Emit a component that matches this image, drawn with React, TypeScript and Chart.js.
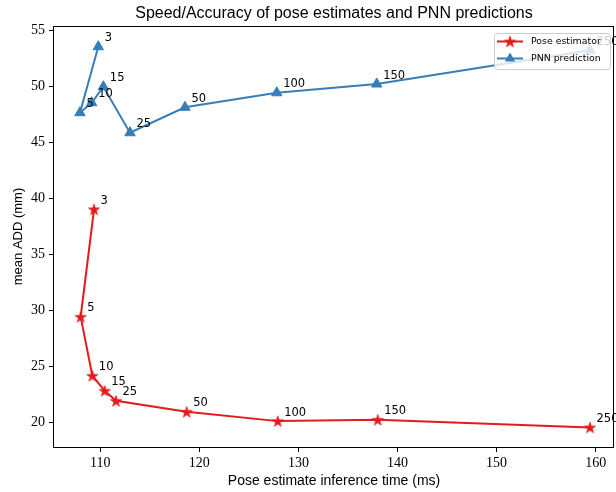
import { useEffect, useRef } from 'react';
import { Chart, registerables } from 'chart.js';

Chart.register(...registerables);

// ---- data ----
const pointLabels = ['3', '5', '10', '15', '25', '50', '100', '150', '250'];
const poseTime = [109.37, 108.02, 109.2, 110.45, 111.59, 118.72, 127.91, 138.0, 159.43];
const poseADD = [39.0, 29.4, 24.14, 22.8, 21.9, 20.92, 20.09, 20.21, 19.53];
const pnnTime = [109.8, 107.95, 109.13, 110.31, 113.0, 118.55, 127.81, 137.9, 159.43];
const pnnADD = [53.51, 47.62, 48.51, 49.94, 45.83, 48.1, 49.4, 50.18, 53.2];
const seriesNames = ['Pose estimator', 'PNN prediction'];
const titleText = 'Speed/Accuracy of pose estimates and PNN predictions';
const xTitle = 'Pose estimate inference time (ms)';
const yTitle = 'mean ADD (mm)';
const xRange = [105.33, 161.85];
const yRange = [17.78, 55.36];

const RED = '#e41a1c';
const BLUE = '#377eb8';

function makeStar(color: string, R: number): HTMLCanvasElement {
  const c = document.createElement('canvas');
  const s = Math.ceil(R * 2 + 2);
  c.width = s;
  c.height = s;
  const g = c.getContext('2d')!;
  const cx = s / 2;
  const cy = s / 2 + R * 0.1;
  g.beginPath();
  for (let i = 0; i < 10; i++) {
    const r = i % 2 === 0 ? R : R * 0.382;
    const a = -Math.PI / 2 + (i * Math.PI) / 5;
    const px = cx + r * Math.cos(a);
    const py = cy + r * Math.sin(a);
    if (i === 0) g.moveTo(px, py);
    else g.lineTo(px, py);
  }
  g.closePath();
  g.fillStyle = color;
  g.fill();
  g.strokeStyle = color;
  g.lineWidth = 0.8;
  g.stroke();
  return c;
}

export default function App() {
  const ref = useRef<HTMLCanvasElement | null>(null);

  useEffect(() => {
    document.body.style.margin = '0';
    const canvas = ref.current!;
    const star = makeStar(RED, 5.8);

    const overlay = {
      id: 'overlay',
      afterDatasetsDraw(chart: any) {
        const ctx = chart.ctx;
        ctx.save();
        ctx.font = '11.5px "DejaVu Sans"';
        ctx.fillStyle = '#000';
        ctx.textAlign = 'left';
        ctx.textBaseline = 'alphabetic';
        chart.data.datasets.forEach((_ds: any, i: number) => {
          const meta = chart.getDatasetMeta(i);
          meta.data.forEach((el: any, j: number) => {
            ctx.fillText(pointLabels[j], el.x + 6.5, el.y - 5.5);
          });
        });
        ctx.restore();
      },
      afterDraw(chart: any) {
        const ctx = chart.ctx;
        const a = chart.chartArea;
        ctx.save();
        // frame
        ctx.strokeStyle = '#000';
        ctx.lineWidth = 1;
        ctx.strokeRect(Math.round(a.left) - 0.5, Math.round(a.top) + 0.5, Math.round(a.right - a.left), Math.round(a.bottom - a.top));
        // title
        ctx.fillStyle = '#000';
        ctx.textAlign = 'center';
        ctx.textBaseline = 'middle';
        ctx.font = '16px "Liberation Sans"';
        ctx.fillText(titleText, (a.left + a.right) / 2, 14);
        // x title
        ctx.font = '14px "Liberation Sans"';
        ctx.fillText(xTitle, (a.left + a.right) / 2, 481);
        // y title
        ctx.save();
        ctx.font = '13px "Liberation Sans"';
        ctx.translate(18, (a.top + a.bottom) / 2);
        ctx.rotate(-Math.PI / 2);
        ctx.fillText(yTitle, 0, 0);
        ctx.restore();
        // legend
        const lx = 494, ly = 33, lw = 116, lh = 36;
        ctx.beginPath();
        ctx.roundRect(lx + 0.5, ly + 0.5, lw, lh, 3);
        ctx.fillStyle = 'rgba(255,255,255,0.8)';
        ctx.fill();
        ctx.strokeStyle = '#cccccc';
        ctx.lineWidth = 1;
        ctx.stroke();
        const rows = [
          { y: 41.5, color: RED, name: seriesNames[0], kind: 'star' },
          { y: 58.5, color: BLUE, name: seriesNames[1], kind: 'tri' },
        ];
        rows.forEach((r) => {
          ctx.strokeStyle = r.color;
          ctx.lineWidth = 2;
          ctx.beginPath();
          ctx.moveTo(497, r.y);
          ctx.lineTo(523, r.y);
          ctx.stroke();
          if (r.kind === 'star') {
            ctx.drawImage(star, 510 - star.width / 2, r.y - star.height / 2);
          } else {
            const R = 6;
            ctx.fillStyle = r.color;
            ctx.beginPath();
            ctx.moveTo(510, r.y - R);
            ctx.lineTo(510 + R * 0.866, r.y + R * 0.5);
            ctx.lineTo(510 - R * 0.866, r.y + R * 0.5);
            ctx.closePath();
            ctx.fill();
          }
          ctx.fillStyle = '#000';
          ctx.textAlign = 'left';
          ctx.textBaseline = 'middle';
          ctx.font = '9.4px "DejaVu Sans"';
          ctx.fillText(r.name, 531, r.y + 0.5);
        });
        ctx.restore();
      },
    };

    const chart = new Chart(canvas, {
      type: 'line',
      data: {
        datasets: [
          {
            label: seriesNames[0],
            data: poseTime.map((x, i) => ({ x, y: poseADD[i] })),
            borderColor: RED,
            backgroundColor: RED,
            borderWidth: 2,
            pointStyle: star as any,
            pointRadius: 6,
            tension: 0,
          },
          {
            label: seriesNames[1],
            data: pnnTime.map((x, i) => ({ x, y: pnnADD[i] })),
            borderColor: BLUE,
            backgroundColor: BLUE,
            borderWidth: 2,
            pointStyle: 'triangle',
            pointRadius: 6,
            pointBorderWidth: 1,
            tension: 0,
          },
        ],
      },
      options: {
        animation: false,
        responsive: false,
        layout: { autoPadding: false, padding: { top: 26, right: 2, left: 0, bottom: 0 } },
        plugins: {
          legend: { display: false },
          title: { display: false },
          tooltip: { enabled: false },
        },
        scales: {
          x: {
            type: 'linear',
            min: xRange[0],
            max: xRange[1],
            afterFit: (s: any) => {
              s.height = 45;
              s.paddingLeft = 0;
              s.paddingRight = 0;
            },
            grid: { drawOnChartArea: false, drawTicks: true, tickLength: 5, color: '#000' },
            border: { display: false },
            ticks: {
              stepSize: 10,
              includeBounds: false,
              color: '#000',
              padding: 3,
              maxRotation: 0,
              font: { family: '"Liberation Serif"', size: 14 },
            },
          },
          y: {
            type: 'linear',
            min: yRange[0],
            max: yRange[1],
            afterFit: (s: any) => {
              s.width = 54;
              s.paddingTop = 0;
              s.paddingBottom = 0;
            },
            grid: { drawOnChartArea: false, drawTicks: true, tickLength: 5, color: '#000' },
            border: { display: false },
            ticks: {
              stepSize: 5,
              includeBounds: false,
              color: '#000',
              padding: 4,
              font: { family: '"Liberation Serif"', size: 14 },
            },
          },
        },
      },
      plugins: [overlay],
    });
    return () => chart.destroy();
  }, []);

  return (
    <div style={{ width: 616, height: 492, overflow: 'hidden', background: '#fff' }}>
      <canvas ref={ref} width={616} height={492} />
    </div>
  );
}
